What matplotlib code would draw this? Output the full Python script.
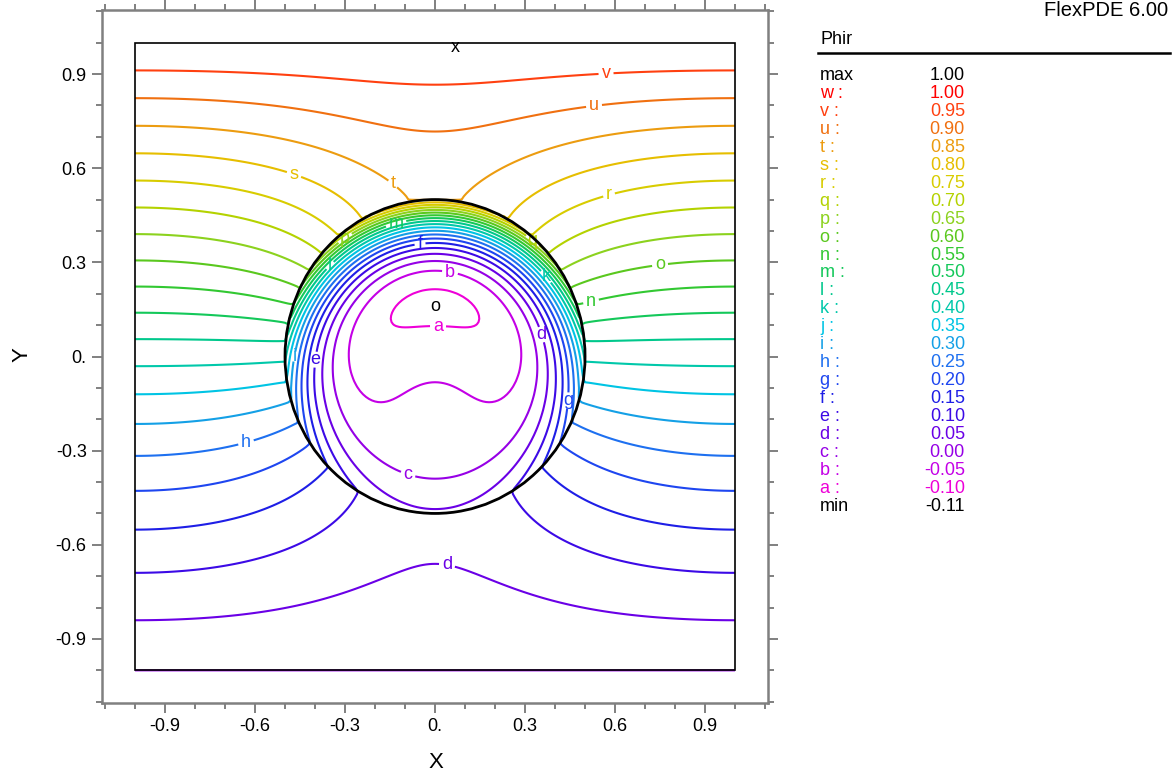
import numpy as np
import matplotlib
matplotlib.use("Agg")
import matplotlib.pyplot as plt
from matplotlib.patches import Circle, Rectangle
from matplotlib.ticker import FixedLocator

# ---------------- data ----------------
levels = [-0.10, -0.05, 0.00, 0.05, 0.10, 0.15, 0.20, 0.25, 0.30, 0.35, 0.40, 0.45,
          0.50, 0.55, 0.60, 0.65, 0.70, 0.75, 0.80, 0.85, 0.90, 0.95, 1.00]
letters = list("abcdefghijklmnopqrstuvw")
line_colors = ["#EE00D8", "#C400E6", "#9600E6", "#6A00E6", "#3C0AE6", "#1E1EE6",
               "#1E46F0", "#1E70F0", "#14A0E6", "#00C4E4", "#00C8AA", "#00C88C",
               "#14C85A", "#32C832", "#5AC81E", "#8CD21E", "#B4D200", "#D8CC00",
               "#E6BE00", "#EC9C10", "#F07010", "#FF4010", "#FF0000"]
legend_max = "1.00"
legend_min = "-0.11"
var_name = "Phir"
ticks_major = [-0.9, -0.6, -0.3, 0.0, 0.3, 0.6, 0.9]
tick_labels = ["-0.9", "-0.6", "-0.3", "0.", "0.3", "0.6", "0.9"]

# model parameters of the time-harmonic diffusion problem
R_INC = 0.5        # radius of the low-conductivity inclusion
K_IN = 0.01        # conductivity inside inclusion (outside = 1)
OMEGA = 1.0        # frequency
PHI_TOP, PHI_BOT = 1.0, 0.0

# ---------------- solve div(k grad phi) = i*omega*phi ----------------
h = 0.01
nx = int(round(1.0 / h)) + 1          # half domain x in [0, 1] (left/right symmetry)
ny = int(round(2.0 / h)) + 1
x = np.linspace(0.0, 1.0, nx)
y = np.linspace(-1.0, 1.0, ny)

ns = 16
t = (np.arange(ns) + 0.5) / ns
Xf = x[:-1, None, None] + t[None, None, :] * h
Yf = y[None, :, None]
fx = ((Xf ** 2 + Yf ** 2) < R_INC ** 2).mean(axis=2)
kx = 1.0 / (fx / K_IN + (1.0 - fx))
Xg = x[:, None, None]
Yg = y[None, :-1, None] + t[None, None, :] * h
fy = ((Xg ** 2 + Yg ** 2) < R_INC ** 2).mean(axis=2)
ky = 1.0 / (fy / K_IN + (1.0 - fy))

phi = np.zeros((nx, ny), dtype=complex)
phi[:, 0] = PHI_BOT
phi[:, -1] = PHI_TOP
Cp = np.zeros((ny, nx, nx), dtype=complex)
dp = np.zeros((ny, nx), dtype=complex)
for j in range(1, ny - 1):
    offE = kx[:, j].copy()
    offE[0] *= 2.0
    offW = kx[:, j].copy()
    offW[-1] *= 2.0
    aS = ky[:, j - 1]
    aN = ky[:, j]
    diag = np.zeros(nx, dtype=complex)
    diag[:-1] -= offE
    diag[1:] -= offW
    diag -= aS + aN
    diag -= 1j * OMEGA * h * h
    M = np.diag(diag) + np.diag(offE, 1) + np.diag(offW, -1)
    r = np.zeros(nx, dtype=complex)
    if j == 1:
        r -= aS * PHI_BOT
    if j == ny - 2:
        r -= aN * PHI_TOP
        U = np.zeros((nx, nx))
    else:
        U = np.diag(aN)
    if j > 1:
        M = M - aS[:, None] * Cp[j - 1]
        r = r - aS * dp[j - 1]
    sol = np.linalg.solve(M, np.column_stack([U, r]))
    Cp[j] = sol[:, :nx]
    dp[j] = sol[:, nx]
phi[:, ny - 2] = dp[ny - 2]
for j in range(ny - 3, 0, -1):
    phi[:, j] = dp[j] - Cp[j] @ phi[:, j + 1]

phir = phi.real
xf = np.concatenate([-x[:0:-1], x])
Z = np.concatenate([phir[:0:-1], phir], axis=0).T   # (ny, 2nx-1)
XX, YY = np.meshgrid(xf, y)

# ---------------- figure ----------------
plt.rcParams["font.family"] = ["Liberation Sans", "DejaVu Sans"]
fig = plt.figure(figsize=(11.74, 7.75), dpi=100)
ax = fig.add_axes([0.0869, 0.0929, 0.5673, 0.8942])
ax.set_xlim(-1.11, 1.11)
ax.set_ylim(-1.104, 1.104)

cs = ax.contour(XX, YY, Z, levels=levels, colors=line_colors, linewidths=1.5)

label_req = [
    ("v", (0.573, 0.895)), ("u", (0.53, 0.79)), ("s", (-0.477, 0.57)),
    ("t", (-0.143, 0.548)), ("r", (0.587, 0.506)), ("o", (0.75, 0.283)),
    ("n", (0.52, 0.175)), ("h", (-0.633, -0.28)), ("d", (0.037, -0.678)),
    ("f", (-0.053, 0.35)), ("b", (0.047, 0.261)), ("a", (0.007, 0.08)),
    ("e", (-0.397, -0.006)), ("g", (0.447, -0.143)), ("c", (-0.097, -0.382)),
    ("m", (-0.13, 0.414)), ("d", (0.353, 0.07)), ("p", (-0.30, 0.37)),
    ("l", (-0.35, 0.29)), ("q", (0.32, 0.36)), ("k", (0.375, 0.255)),
    ("i", (-0.47, 0.0)),
]
snap = []
for lab, (px, py) in label_req:
    k = letters.index(lab)
    best, bd = None, 1e9
    for seg in cs.allsegs[k]:
        if len(seg) == 0:
            continue
        dd = ((seg[:, 0] - px) * 300) ** 2 + ((seg[:, 1] - py) * 314) ** 2
        m = np.argmin(dd)
        if dd[m] < bd:
            bd, best = dd[m], (seg[m, 0], seg[m, 1])
    if best is not None:
        snap.append(best)
fmt = {lev: lab for lev, lab in zip(levels, letters)}
if snap:
    txts = ax.clabel(cs, manual=snap, inline=True, inline_spacing=3, fontsize=13,
                     fmt=fmt)
    for tx in txts:
        tx.set_rotation(0)

ax.add_patch(Circle((0, 0), R_INC, fill=False, ec="black", lw=2.0, zorder=5))
ax.add_patch(Rectangle((-1, -1), 2, 2, fill=False, ec="black", lw=1.2, zorder=5))

# min / max markers
jmin, imin = np.unravel_index(np.argmin(Z), Z.shape)
ax.text(xf[imin], y[jmin], "o", ha="center", va="center", fontsize=13, color="black")
ax.text(0.067, 0.985, "x", ha="center", va="center", fontsize=13, color="black")

gray = "#808080"
for sp in ax.spines.values():
    sp.set_color(gray)
    sp.set_linewidth(1.8)
ax.xaxis.set_major_locator(FixedLocator(ticks_major))
ax.yaxis.set_major_locator(FixedLocator(ticks_major))
ax.set_xticklabels(tick_labels)
ax.set_yticklabels(tick_labels)
minor = np.round(np.arange(-1.1, 1.11, 0.1), 2)
ax.xaxis.set_minor_locator(FixedLocator(minor))
ax.yaxis.set_minor_locator(FixedLocator(minor))
ax.tick_params(which="both", direction="out", color=gray, width=1.4,
               top=True, right=True, labelsize=13, labelcolor="black")
ax.tick_params(which="major", length=7, pad=4)
ax.tick_params(which="minor", length=4)

fig.text(436 / 1174, 1 - 762 / 775, "X", ha="center", va="center", fontsize=16)
fig.text(22 / 1174, 1 - 355 / 775, "Y", ha="center", va="center", fontsize=16, rotation=90)

# legend block
fig.text(1168 / 1174, 1 - 16 / 775, "FlexPDE 6.00", ha="right", va="baseline", fontsize=14.5)
fig.text(820 / 1174, 1 - 40 / 775, var_name, ha="left", va="center", fontsize=13)
fig.add_artist(plt.Line2D([818 / 1174, 1170 / 1174], [1 - 52.5 / 775, 1 - 52.5 / 775],
                          color="black", lw=1.8, transform=fig.transFigure))
row0, dy = 75.5, 17.95
rows = [("max", legend_max, "black")]
for lab, lev, col in zip(letters[::-1], levels[::-1], line_colors[::-1]):
    rows.append((lab + " :", "%.2f" % lev, col))
rows.append(("min", legend_min, "black"))
for k, (name, val, col) in enumerate(rows):
    yy = 1 - (row0 + k * dy) / 775
    fig.text(820 / 1174, yy, name, ha="left", va="center", fontsize=13, color=col)
    fig.text(965 / 1174, yy, val, ha="right", va="center", fontsize=13, color=col)

fig.savefig("out.png", dpi=100)
